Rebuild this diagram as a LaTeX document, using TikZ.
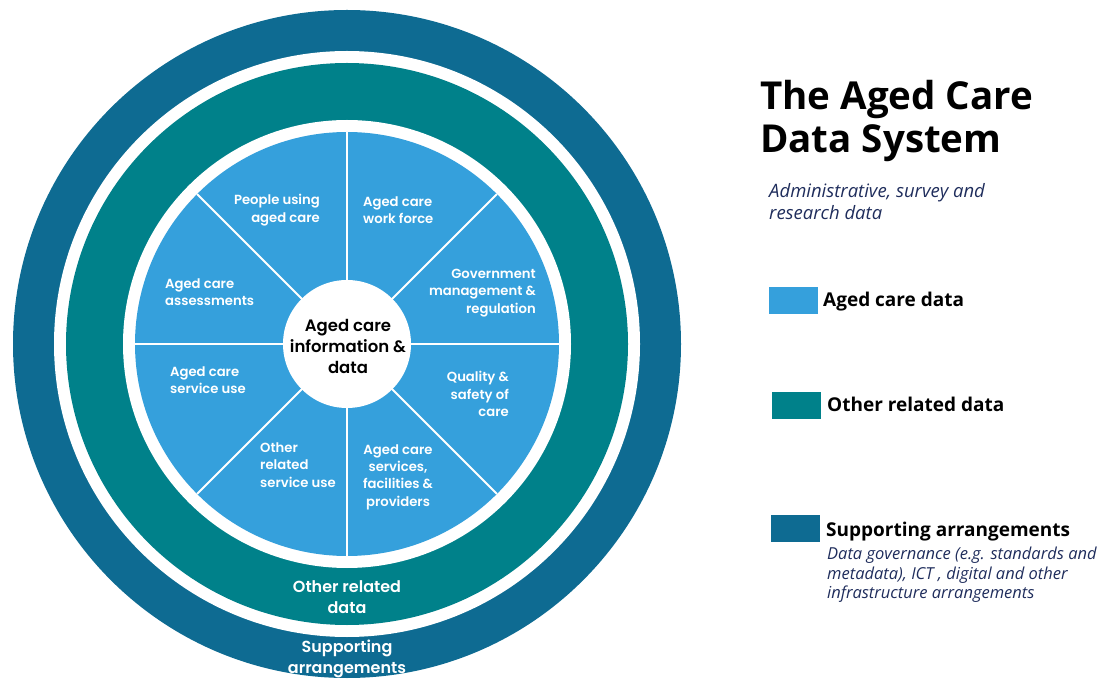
\documentclass[tikz,border=0pt]{standalone}
\usepackage{fontspec}
\setmainfont{Open Sans}
\newfontfamily\gothic{Poppins SemiBold}
\definecolor{suppblue}{HTML}{0E6B92}
\definecolor{otherteal}{HTML}{00818A}
\definecolor{agedblue}{HTML}{35A0DC}
\definecolor{navy}{HTML}{1F2D5C}
\tikzset{
  seg/.style={text=white,font=\gothic\fontsize{13.2}{17.3}\selectfont,inner sep=0pt},
  ring/.style={text=white,align=center,font=\gothic\fontsize{16}{21}\selectfont,inner sep=0pt},
  key/.style={anchor=north west,minimum width=49pt,minimum height=27pt,inner sep=0pt},
  keytext/.style={anchor=base west,font=\bfseries\fontsize{19}{22}\selectfont,inner sep=0pt},
  note/.style={anchor=north west,align=left,text=navy,font=\itshape\fontsize{16.5}{19.5}\selectfont,inner sep=0pt}
}
\begin{document}
\begin{tikzpicture}[x=1pt,y=-1pt]
\useasboundingbox (0,0) rectangle (1098,700);
\coordinate (c) at (347,344);
% rings
\fill[suppblue] (c) circle[radius=334pt];
\fill[white] (c) circle[radius=293pt];
\fill[otherteal] (c) circle[radius=281pt];
\fill[white] (c) circle[radius=224pt];
\fill[agedblue] (c) circle[radius=212pt];
\foreach \a in {0,45,...,315}
  \draw[white,line width=2pt] (c) -- +(\a:212pt);
\fill[white] (c) circle[radius=64pt];
% segment labels
\node[seg,align=right,anchor=east] (people) at (320,210) {People using\\aged care};
\node[seg,align=left,anchor=west] (workforce) at (363,210) {Aged care\\work force};
\node[seg,align=right,anchor=east] (govt) at (536,293) {Government\\management \&\\regulation};
\node[seg,align=left,anchor=west] (assess) at (165,292) {Aged care\\assessments};
\node[seg,align=left,anchor=west] (serviceuse) at (170,380) {Aged care\\service use};
\node[seg,align=right,anchor=east] (quality) at (509,394) {Quality \&\\safety of\\care};
\node[seg,align=left,anchor=west] (otheruse) at (260,465) {Other\\related\\service use};
\node[seg,align=center] (providers) at (398,477) {Aged care\\services,\\facilities \&\\providers};
\node[align=center,font=\gothic\fontsize{16.5}{21}\selectfont,inner sep=0pt] (hub) at (348,346) {Aged care\\information \&\\data};
\node[ring] (otherring) at (347,597) {Other related\\data};
\node[ring] (suppring) at (347,659) {Supporting\\arrangements};
% title and legend
\node[anchor=base west,align=left,font=\bfseries\fontsize{38.5}{43}\selectfont,inner sep=0pt] (title) at (760,153) {The Aged Care\\Data System};
\node[note,font=\itshape\fontsize{18.5}{22.5}\selectfont] (sub) at (769,183) {Administrative, survey and\\research data};
\node[key,fill=agedblue] (k1) at (769,287) {};
\node[keytext] at (823,307) {Aged care data};
\node[key,fill=otherteal] (k2) at (772,392) {};
\node[keytext] at (827,412) {Other related data};
\node[key,fill=suppblue] (k3) at (771,515) {};
\node[keytext] at (826,536) {Supporting arrangements};
\node[note] (govnote) at (827,547) {Data governance (e.g. standards and\\metadata), ICT , digital and other\\infrastructure arrangements};
\end{tikzpicture}
\end{document}
